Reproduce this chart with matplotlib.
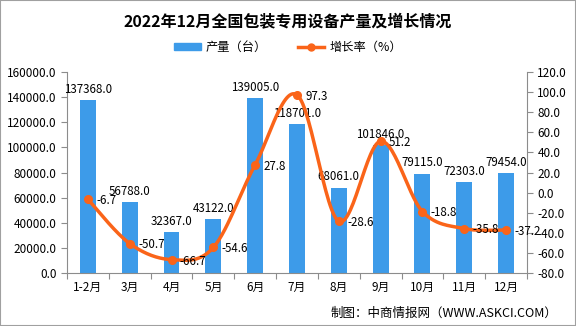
import numpy as np
import matplotlib
matplotlib.use("Agg")
import matplotlib.pyplot as plt
from matplotlib.patches import Rectangle
from matplotlib.lines import Line2D

plt.rcParams['font.family'] = ['Noto Sans CJK SC', 'DejaVu Sans']

months = ["1-2月", "3月", "4月", "5月", "6月", "7月", "8月", "9月", "10月", "11月", "12月"]
output = [137368, 56788, 32367, 43122, 139005, 118701, 68061, 101846, 79115, 72303, 79454]
growth = [-6.7, -50.7, -66.7, -54.6, 27.8, 97.3, -28.6, 51.2, -18.8, -35.8, -37.2]

bar_color = '#3D9BE9'
line_color = '#FA6419'
axis_color = '#8C8C8C'

fig = plt.figure(figsize=(5.76, 3.26), dpi=100)
fig.patches.append(Rectangle((0, 0), 1, 1, transform=fig.transFigure,
                             fill=False, edgecolor='#A0A0A0', linewidth=1.5))

ax1 = fig.add_axes([0.1163, 0.1626, 0.7986, 0.6164])
x = np.arange(len(months))
ax1.bar(x, output, width=0.38, color=bar_color, zorder=2)
ax1.set_xlim(-0.5, len(months) - 0.5)
ax1.set_ylim(0, 160000)
ax1.set_yticks(np.arange(0, 160001, 20000))
ax1.set_yticklabels([f"{v:.1f}" for v in np.arange(0, 160001, 20000)])

# category boundary ticks on x axis
ax1.set_xticks(np.arange(-0.5, len(months), 1.0))
ax1.set_xticklabels([])
ax1.set_xticks(x, minor=True)
ax1.set_xticklabels(months, minor=True)
ax1.tick_params(axis='x', which='major', length=4, color=axis_color)
ax1.tick_params(axis='x', which='minor', length=0, pad=6, labelsize=8.5)
ax1.tick_params(axis='y', length=4, color=axis_color, labelsize=8.5)

for s in ['top', 'right']:
    ax1.spines[s].set_visible(False)
for s in ['left', 'bottom']:
    ax1.spines[s].set_color(axis_color)

for xi, v in zip(x, output):
    ax1.annotate(f"{v:.1f}", (xi, v), xytext=(0, 3), textcoords='offset points',
                 ha='center', va='bottom', fontsize=8.3, zorder=5)

ax2 = ax1.twinx()
ax2.set_ylim(-80, 120)
ax2.set_yticks(np.arange(-80, 121, 20))
ax2.set_yticklabels([f"{v:.1f}" for v in np.arange(-80, 121, 20)])
ax2.tick_params(axis='y', length=4, color=axis_color, labelsize=8.5)
for s in ['top', 'left', 'bottom']:
    ax2.spines[s].set_visible(False)
ax2.spines['right'].set_color(axis_color)

# smoothed line (Catmull-Rom style, like spreadsheet smoothing)
g = np.array(growth, dtype=float)
px = np.concatenate([[x[0]], x, [x[-1]]]).astype(float)
py = np.concatenate([[g[0]], g, [g[-1]]])
cx, cy = [], []
t = np.linspace(0, 1, 30)
for i in range(1, len(px) - 2):
    p0 = np.array([px[i], py[i]])
    p3 = np.array([px[i + 1], py[i + 1]])
    c1 = p0 + (np.array([px[i + 1], py[i + 1]]) - np.array([px[i - 1], py[i - 1]])) / 6
    c2 = p3 - (np.array([px[i + 2], py[i + 2]]) - np.array([px[i], py[i]])) / 6
    b = ((1 - t) ** 3)[:, None] * p0 + (3 * (1 - t) ** 2 * t)[:, None] * c1 \
        + (3 * (1 - t) * t ** 2)[:, None] * c2 + (t ** 3)[:, None] * p3
    cx.extend(b[:, 0])
    cy.extend(b[:, 1])
ax2.plot(cx, cy, color=line_color, linewidth=2.5, zorder=3, solid_capstyle='round')
ax2.plot(x, g, 'o', color=line_color, markersize=5.5, zorder=4)

for xi, v in zip(x, growth):
    ax2.annotate(f"{v:.1f}", (xi, v), xytext=(6, -1), textcoords='offset points',
                 ha='left', va='center', fontsize=8.3, zorder=5)

fig.text(0.5, 0.935, "2022年12月全国包装专用设备产量及增长情况", ha='center', va='center',
         fontsize=11.5, fontweight='bold')

handles = [Rectangle((0, 0), 1, 1, color=bar_color),
           Line2D([0], [0], color=line_color, linewidth=2.5, marker='o', markersize=5)]
fig.legend(handles, ["产量（台）", "增长率（%）"], loc='center', bbox_to_anchor=(0.5, 0.855),
           ncol=2, frameon=False, fontsize=8.8, handlelength=2.2, handleheight=0.5,
           columnspacing=2.5, handletextpad=0.4)

fig.text(0.967, 0.04, "制图：中商情报网（WWW.ASKCI.COM）", ha='right', va='center', fontsize=9)

fig.savefig("out.png", dpi=100)
